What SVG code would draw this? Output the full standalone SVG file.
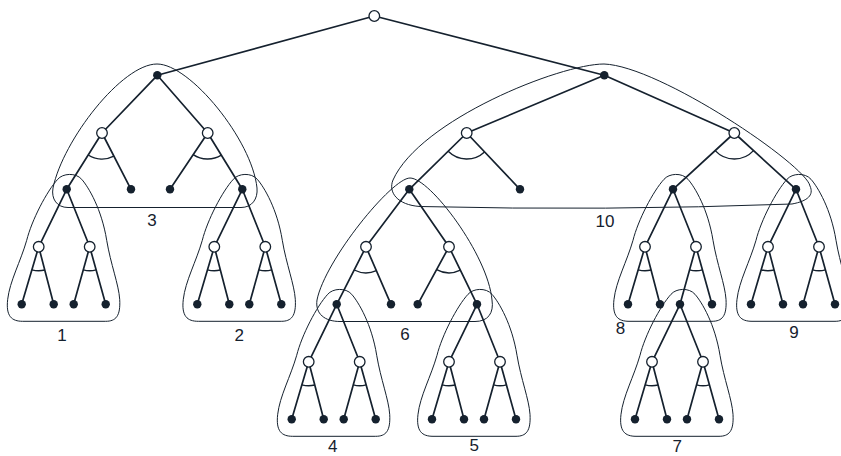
<svg xmlns="http://www.w3.org/2000/svg" xmlns:xlink="http://www.w3.org/1999/xlink" width="841" height="456" viewBox="0 0 841 456">
<style>
.edge{stroke:#15212e;stroke-width:1.7;fill:none;stroke-linecap:round}
.arc{stroke:#15212e;stroke-width:1.4;fill:none}
.outline{stroke:#15212e;stroke-width:1;fill:none}
.dot{fill:#15212e}
.ring{fill:#ffffff;stroke:#15212e;stroke-width:1.3}
.lbl{font-family:"Liberation Sans",Arial,sans-serif;font-size:17px;fill:#15212e;text-anchor:middle}
</style>
<defs>
<path id="tri" class="outline" d="M-9,-10 C-4,-16 9,-17 15,-10 C22,-2 35,20 40,51 C44,75 52,95 53,110 C54,127 49,132 39,132 L-44,132 C-55,132 -61,127 -59,110 C-57,92 -46,72 -40,51 C-35,31 -20,2 -9,-10 Z"/>
<g id="subedges">
<path class="edge" d="M0,0 L-28,57.5 M0,0 L23,57.5 M-28,57.5 L-45,115 M-28,57.5 L-13,115 M23,57.5 L7,115 M23,57.5 L39,115"/>
<path class="arc" d="M-34.8,80.5 A24,24 0 0 0 -21.95,80.7 M16.6,80.6 A24,24 0 0 0 29.4,80.6"/>
</g>
<circle id="dot" class="dot" r="4.2"/>
<circle id="ring" class="ring" r="5.3"/>
</defs>

<g id="clusters">
<g id="cluster-3"><path class="outline" d="M157,64 C190,64 252,140 257,188 C258,199 252,207.5 241,207.5 L68,207.5 C57,207.5 51,199 53,188 C63,140 122,64 157,64 Z"/><text class="lbl" x="152" y="226">3</text></g>
<g id="cluster-10"><path class="outline" d="M604,64 C560,64 420,120 393,180 C388,192 397,205 420,206.5 Q605,211 792,204 C808,201 814,195 810,186 C806,165 660,66 604,64 Z"/><text class="lbl" x="605" y="227">10</text></g>
<g id="cluster-6"><path class="outline" d="M410,178 C392,178 325,260 317,300 C315,314 325,321.5 340,321.5 L475,321.5 C488,321.5 494,313 492,300 C488,255 430,178 410,178 Z"/><text class="lbl" x="405" y="340">6</text></g>
<g id="cluster-1"><use href="#tri" x="66.7" y="189.3"/><text class="lbl" x="62" y="341">1</text></g>
<g id="cluster-2"><use href="#tri" x="242.3" y="189.3"/><text class="lbl" x="239.3" y="341">2</text></g>
<g id="cluster-8"><use href="#tri" x="673" y="189.3"/><text class="lbl" x="620.5" y="333.5">8</text></g>
<g id="cluster-9"><use href="#tri" x="796" y="189.3"/><text class="lbl" x="794" y="338">9</text></g>
<g id="cluster-4"><use href="#tri" x="336.7" y="304.3"/><text class="lbl" x="332.7" y="451.5">4</text></g>
<g id="cluster-5"><use href="#tri" x="477" y="304.3"/><text class="lbl" x="474.3" y="451">5</text></g>
<g id="cluster-7"><use href="#tri" x="680" y="304.3"/><text class="lbl" x="677.3" y="451.5">7</text></g>
</g>

<g id="connectors">
<path class="edge" d="M374.3,16 L157.3,75.3 M374.3,16 L604.3,75.3
M157.3,75.3 L102,133 M157.3,75.3 L207.7,133 M102,133 L66.7,189.3 M102,133 L131,189.3 M207.7,133 L170,189.3 M207.7,133 L242.3,189.3
M604.3,75.3 L466.7,133 M604.3,75.3 L734.3,133 M466.7,133 L409.3,189.3 M466.7,133 L520,189.3 M734.3,133 L673,189.3 M734.3,133 L796,189.3
M409.3,189.3 L366,246.8 M409.3,189.3 L449,246.8 M366,246.8 L336.7,304.3 M366,246.8 L391,304.3 M449,246.8 L417.7,304.3 M449,246.8 L477,304.3"/>
<path class="arc" d="M88.2,155 A26,26 0 0 0 113.9,156.1 M193.2,154.6 A26,26 0 0 0 221.3,155.2 M448.2,151.3 A26,26 0 0 0 484.5,151.9 M715.2,150.6 A26,26 0 0 0 753.5,150.6 M354.2,270 A26,26 0 0 0 376.4,270.6 M436.6,269.6 A26,26 0 0 0 460.4,270.2"/>
<use href="#subedges" x="66.7" y="189.3"/>
<use href="#subedges" x="242.3" y="189.3"/>
<use href="#subedges" x="673" y="189.3"/>
<use href="#subedges" x="796" y="189.3"/>
<use href="#subedges" x="336.7" y="304.3"/>
<use href="#subedges" x="477" y="304.3"/>
<use href="#subedges" x="680" y="304.3"/>
</g>

<g id="nodes">
<g id="n-root"><use href="#ring" x="374.3" y="16"/></g>
<g id="n-A"><use href="#dot" x="157.3" y="75.3"/></g>
<g id="n-B"><use href="#dot" x="604.3" y="75.3"/></g>
<g id="n-o3L"><use href="#ring" x="102" y="133"/></g>
<g id="n-o3R"><use href="#ring" x="207.7" y="133"/></g>
<g id="n-m3a"><use href="#dot" x="131" y="189.3"/></g>
<g id="n-m3b"><use href="#dot" x="170" y="189.3"/></g>
<g id="n-o10L"><use href="#ring" x="466.7" y="133"/></g>
<g id="n-o10R"><use href="#ring" x="734.3" y="133"/></g>
<g id="n-m10"><use href="#dot" x="520" y="189.3"/></g>
<g id="n-s6"><use href="#dot" x="409.3" y="189.3"/></g>
<g id="n-o6L"><use href="#ring" x="366" y="246.8"/></g>
<g id="n-o6R"><use href="#ring" x="449" y="246.8"/></g>
<g id="n-m6a"><use href="#dot" x="391" y="304.3"/></g>
<g id="n-m6b"><use href="#dot" x="417.7" y="304.3"/></g>

<g id="n-s1"><use href="#dot" x="66.7" y="189.3"/></g>
<g id="n-s1-o1"><use href="#ring" x="38.7" y="246.8"/></g>
<g id="n-s1-o2"><use href="#ring" x="89.7" y="246.8"/></g>
<g id="n-s1-l1"><use href="#dot" x="21.7" y="304.3"/></g>
<g id="n-s1-l2"><use href="#dot" x="53.7" y="304.3"/></g>
<g id="n-s1-l3"><use href="#dot" x="73.7" y="304.3"/></g>
<g id="n-s1-l4"><use href="#dot" x="105.7" y="304.3"/></g>

<g id="n-s2"><use href="#dot" x="242.3" y="189.3"/></g>
<g id="n-s2-o1"><use href="#ring" x="214.3" y="246.8"/></g>
<g id="n-s2-o2"><use href="#ring" x="265.3" y="246.8"/></g>
<g id="n-s2-l1"><use href="#dot" x="197.3" y="304.3"/></g>
<g id="n-s2-l2"><use href="#dot" x="229.3" y="304.3"/></g>
<g id="n-s2-l3"><use href="#dot" x="249.3" y="304.3"/></g>
<g id="n-s2-l4"><use href="#dot" x="281.3" y="304.3"/></g>

<g id="n-s8"><use href="#dot" x="673" y="189.3"/></g>
<g id="n-s8-o1"><use href="#ring" x="645" y="246.8"/></g>
<g id="n-s8-o2"><use href="#ring" x="696" y="246.8"/></g>
<g id="n-s8-l1"><use href="#dot" x="628" y="304.3"/></g>
<g id="n-s8-l2"><use href="#dot" x="660" y="304.3"/></g>
<g id="n-s8-l4"><use href="#dot" x="712" y="304.3"/></g>

<g id="n-s9"><use href="#dot" x="796" y="189.3"/></g>
<g id="n-s9-o1"><use href="#ring" x="768" y="246.8"/></g>
<g id="n-s9-o2"><use href="#ring" x="819" y="246.8"/></g>
<g id="n-s9-l1"><use href="#dot" x="751" y="304.3"/></g>
<g id="n-s9-l2"><use href="#dot" x="783" y="304.3"/></g>
<g id="n-s9-l3"><use href="#dot" x="803" y="304.3"/></g>
<g id="n-s9-l4"><use href="#dot" x="835" y="304.3"/></g>

<g id="n-s4"><use href="#dot" x="336.7" y="304.3"/></g>
<g id="n-s4-o1"><use href="#ring" x="308.7" y="361.8"/></g>
<g id="n-s4-o2"><use href="#ring" x="359.7" y="361.8"/></g>
<g id="n-s4-l1"><use href="#dot" x="291.7" y="419.3"/></g>
<g id="n-s4-l2"><use href="#dot" x="323.7" y="419.3"/></g>
<g id="n-s4-l3"><use href="#dot" x="343.7" y="419.3"/></g>
<g id="n-s4-l4"><use href="#dot" x="375.7" y="419.3"/></g>

<g id="n-s5"><use href="#dot" x="477" y="304.3"/></g>
<g id="n-s5-o1"><use href="#ring" x="449" y="361.8"/></g>
<g id="n-s5-o2"><use href="#ring" x="500" y="361.8"/></g>
<g id="n-s5-l1"><use href="#dot" x="432" y="419.3"/></g>
<g id="n-s5-l2"><use href="#dot" x="464" y="419.3"/></g>
<g id="n-s5-l3"><use href="#dot" x="484" y="419.3"/></g>
<g id="n-s5-l4"><use href="#dot" x="516" y="419.3"/></g>

<g id="n-s7"><use href="#dot" x="680" y="304.3"/></g>
<g id="n-s7-o1"><use href="#ring" x="652" y="361.8"/></g>
<g id="n-s7-o2"><use href="#ring" x="703" y="361.8"/></g>
<g id="n-s7-l1"><use href="#dot" x="635" y="419.3"/></g>
<g id="n-s7-l2"><use href="#dot" x="667" y="419.3"/></g>
<g id="n-s7-l3"><use href="#dot" x="687" y="419.3"/></g>
<g id="n-s7-l4"><use href="#dot" x="719" y="419.3"/></g>
</g>
</svg>
